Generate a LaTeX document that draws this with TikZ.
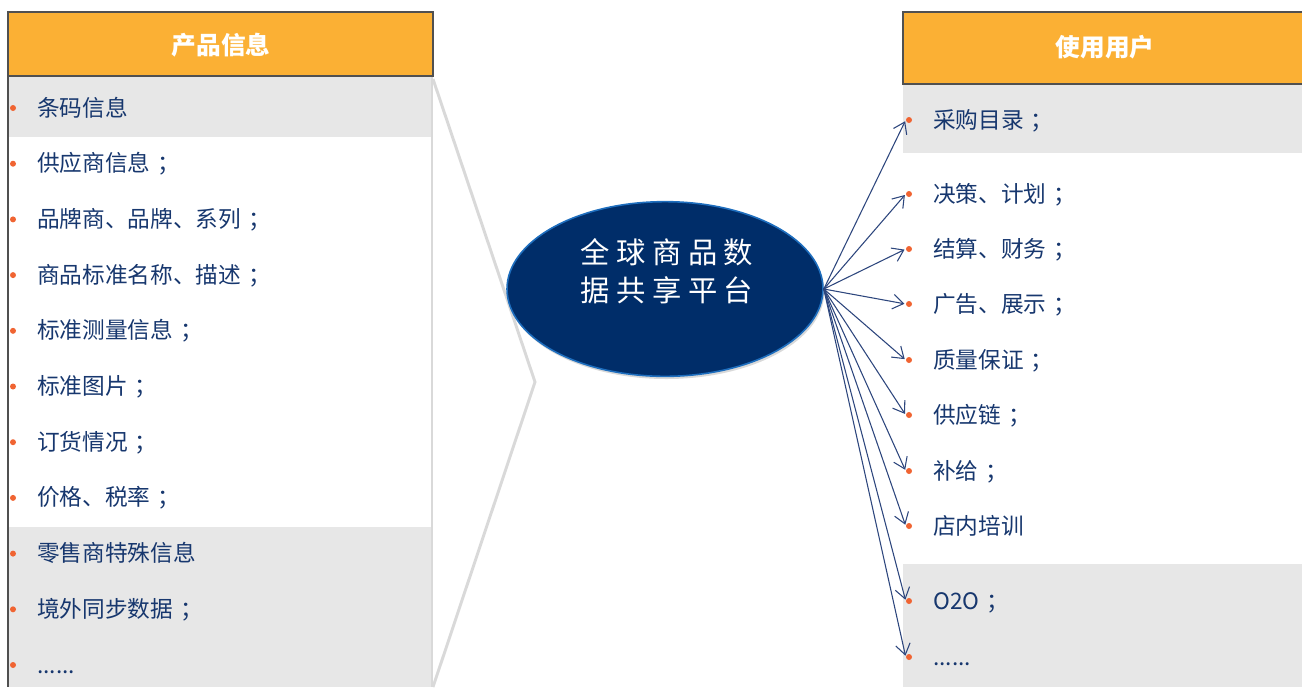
\documentclass[tikz,border=0pt]{standalone}
\usepackage{fontspec}
\setmainfont{Noto Sans CJK SC}
\newfontfamily\hubfont{Noto Sans CJK SC}[LetterSpace=22]
\usetikzlibrary{arrows.meta, positioning, shapes.geometric, shadows}
\newcommand{\moredots}{......}
\newcommand{\fwsemi}{\kern0.3em；}

\begin{document}
\begin{tikzpicture}[x=0.75pt, y=-0.75pt,
  head/.style={font=\fontsize{18.5}{22}\selectfont\bfseries, text=white},
  item/.style={anchor=west, inner sep=0pt, text height=14pt, text depth=2pt,
    font=\fontsize{17}{20}\selectfont, text=textcolor},
  dot/.style={circle, fill=dotcolor, inner sep=0pt, minimum size=4.5pt},
  link/.style={arrowcolor, line width=0.8pt, shorten >=1pt,
    -{Straight Barb[length=8pt, width=11pt]}}]
% Define colors
\definecolor{headcolor}{RGB}{251, 176, 52}
\definecolor{framecolor}{RGB}{80, 80, 80}
\definecolor{bandcolor}{RGB}{231, 231, 231}
\definecolor{edgecolor}{RGB}{217, 217, 217}
\definecolor{textcolor}{RGB}{23, 55, 110}
\definecolor{dotcolor}{RGB}{240, 100, 50}
\definecolor{hubcolor}{RGB}{0, 45, 105}
\definecolor{rimcolor}{RGB}{30, 110, 190}
\definecolor{arrowcolor}{RGB}{45, 70, 125}

\useasboundingbox (0,0) rectangle (1302,687);

% Left panel
\fill[bandcolor] (8,77) rectangle (431,137);
\fill[bandcolor] (8,527) rectangle (431,687);
\draw[edgecolor, line width=2.2pt] (432,77) -- (432,687);
\draw[framecolor, line width=0.9pt] (8,77) -- (8,687);
\draw[line width=1.5pt, draw=framecolor, fill=headcolor] (8,12) rectangle (433,76);
\node[head] (lhead) at (221,45) {产品信息};

\foreach \t [count=\i] in {条码信息, 供应商信息\fwsemi, 品牌商、品牌、系列\fwsemi, 商品标准名称、描述\fwsemi,
    标准测量信息\fwsemi, 标准图片\fwsemi, 订货情况\fwsemi, 价格、税率\fwsemi, 零售商特殊信息,
    境外同步数据\fwsemi, \moredots} {
  \node[dot] (ld\i) at (13, {108+(\i-1)*55.7}) {};
  \node[item] (li\i) at (37, {108+(\i-1)*55.7}) {\t};
}

% Bracket
\coordinate (btop) at (433,79);
\coordinate (btip) at (535,382);
\coordinate (bbot) at (433,687);
\draw[edgecolor, line width=2.2pt] (btop) -- (btip) -- (bbot);

% Hub
\node[ellipse, minimum width=237pt, minimum height=131pt, fill=hubcolor, draw=rimcolor,
  line width=1.2pt, drop shadow={shadow xshift=1pt, shadow yshift=-2pt, opacity=0.3}] (hub) at (665,289) {};
\node[align=center, text=white, font=\hubfont\fontsize{22}{28.5}\selectfont] (hubtext) at (667,271)
  {全球商品数\\据共享平台};

% Right panel
\fill[bandcolor] (903,85) rectangle (1302,153);
\fill[bandcolor] (903,564) rectangle (1302,687);
\draw[line width=1.5pt, draw=framecolor, fill=headcolor] (903,12) rectangle (1310,84);
\node[head] (rhead) at (1105,47) {使用用户};

\foreach \t/\y [count=\i] in {采购目录\fwsemi/120, 决策、计划\fwsemi/194, 结算、财务\fwsemi/249,
    广告、展示\fwsemi/304, 质量保证\fwsemi/360, 供应链\fwsemi/415, 补给\fwsemi/471, 店内培训/526,
    O2O\fwsemi/601, \moredots/657} {
  \node[dot] (rd\i) at (909,\y) {};
  \node[item] (ri\i) at (933,\y) {\t};
  \draw[link] (hub.east) -- (rd\i.west);
}
\end{tikzpicture}
\end{document}
